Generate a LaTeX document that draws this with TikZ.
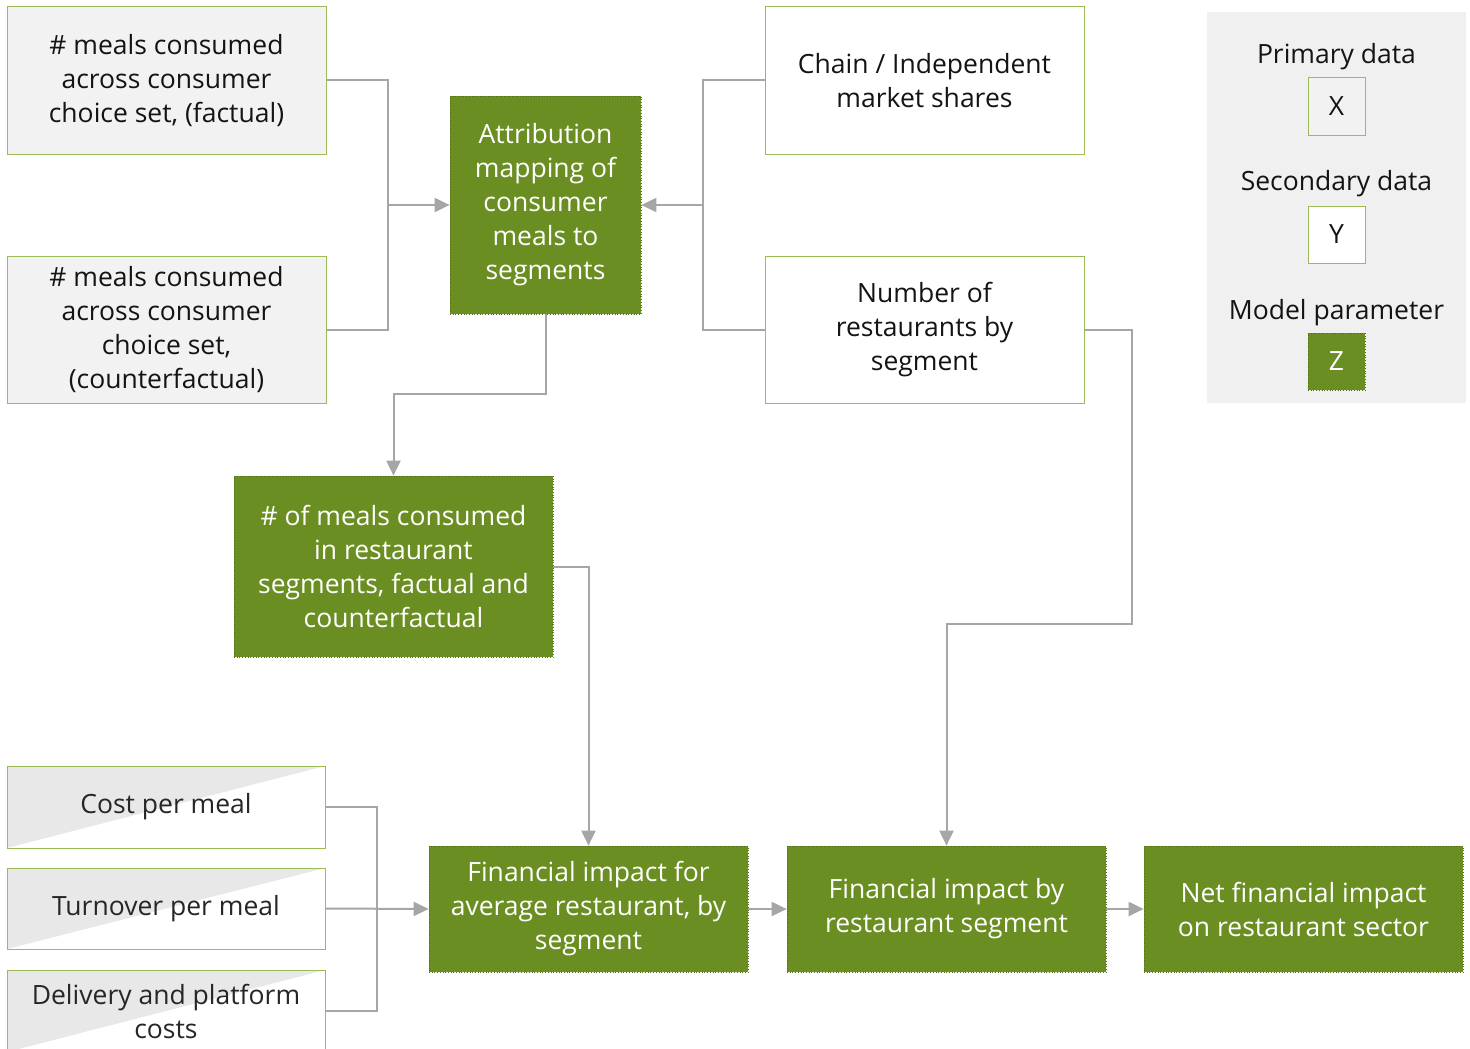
\documentclass[tikz,border=0pt]{standalone}
\usepackage{fontspec}
\setmainfont{Open Sans}
\usetikzlibrary{arrows.meta}
\definecolor{gfill}{RGB}{106,142,34}
\definecolor{gdot}{RGB}{80,108,26}
\definecolor{gline}{RGB}{155,187,89}
\definecolor{pfill}{RGB}{242,242,242}
\definecolor{conn}{RGB}{166,166,166}
\definecolor{txt}{RGB}{20,20,20}
\definecolor{txtb}{RGB}{38,38,38}
\definecolor{legbg}{RGB}{240,240,240}
\definecolor{halfgray}{RGB}{232,232,232}
\tikzset{
  base/.style={rectangle, inner sep=0pt, align=center, font=\fontsize{26.5}{34}\selectfont},
  primbox/.style={base, fill=pfill, draw=gline, line width=1pt, text=txt},
  secbox/.style={base, fill=white, draw=gline, line width=1pt, text=txt},
  modbox/.style={base, fill=gfill, draw=gdot, dotted, line width=0.7pt, text=white},
  halfbox/.style={base, fill=white, draw=gline, line width=1pt, text=txtb,
    path picture={\fill[halfgray] (path picture bounding box.north west) -- (path picture bounding box.north east) -- (path picture bounding box.south west) -- cycle;}},
  lbl/.style={font=\fontsize{26.5}{34}\selectfont, text=txt, inner sep=0pt},
  cline/.style={draw=conn, line width=2pt},
  carr/.style={cline, -{Triangle[length=15pt,width=14pt]}},
}
\begin{document}
\begin{tikzpicture}[x=1pt,y=-1pt]
\useasboundingbox (0,0) rectangle (1470,1049);
% legend
\fill[legbg] (1207,12) rectangle (1466,403);
\node[lbl] (lp) at (1336.5,57) {Primary data};
\node[primbox, minimum width=57pt, minimum height=57pt] (lx) at (1336.5,106.5) {X};
\node[lbl] (ls) at (1336.5,184) {Secondary data};
\node[secbox, minimum width=57pt, minimum height=57pt] (ly) at (1336.5,234.5) {Y};
\node[lbl] (lm) at (1336.5,313) {Model parameter};
\node[modbox, minimum width=57pt, minimum height=57pt] (lz) at (1336.5,361.5) {Z};
% top nodes
\node[primbox, minimum width=319pt, minimum height=147pt] (a1) at (166.5,80.5) {\# meals consumed\\across consumer\\choice set, (factual)};
\node[primbox, minimum width=319pt, minimum height=147pt] (a2) at (166.5,329.5) {\# meals consumed\\across consumer\\choice set,\\(counterfactual)};
\node[modbox, minimum width=191pt, minimum height=218pt] (attr) at (545.5,205) {Attribution\\mapping of\\consumer\\meals to\\segments};
\node[secbox, minimum width=319pt, minimum height=147pt] (chain) at (924.5,80.5) {Chain / Independent\\market shares};
\node[secbox, minimum width=319pt, minimum height=147pt] (num) at (924.5,329.5) {Number of\\restaurants by\\segment};
\node[modbox, minimum width=319pt, minimum height=181pt] (meals) at (393.5,566.5) {\# of meals consumed\\in restaurant\\segments, factual and\\counterfactual};
% bottom
\node[halfbox, minimum width=318pt, minimum height=82pt] (cost) at (166,807) {Cost per meal};
\node[halfbox, minimum width=318pt, minimum height=81pt] (turn) at (166,908.5) {Turnover per meal};
\node[halfbox, minimum width=318pt, minimum height=82pt] (deliv) at (166,1011) {Delivery and platform\\costs};
\node[modbox, minimum width=319pt, minimum height=126pt] (finavg) at (588.5,909) {Financial impact for\\average restaurant, by\\segment};
\node[modbox, minimum width=319pt, minimum height=126pt] (finseg) at (946.5,909) {Financial impact by\\restaurant segment};
\node[modbox, minimum width=319pt, minimum height=126pt] (net) at (1303.5,909) {Net financial impact\\on restaurant sector};
% connectors
\coordinate (jL) at (388,205);
\coordinate (jR) at (703,205);
\coordinate (jB) at (377,909);
\coordinate (k1) at (1132,624);
\coordinate (k2) at (545.5,394);
\draw[cline] (a1.east) -| (jL);
\draw[cline] (a2.east) -| (jL);
\draw[carr] (jL) -- (attr.west);
\draw[cline] (chain.west) -| (jR);
\draw[cline] (num.west) -| (jR);
\draw[carr] (jR) -- (attr.east);
\draw[carr] (attr.south) -- (k2) -| (meals.north);
\draw[carr] (meals.east) -| (finavg.north);
\draw[carr] (num.east) -| (k1) -| (finseg.north);
\draw[cline] (cost.east) -| (jB);
\draw[cline] (deliv.east) -| (jB);
\draw[carr] (turn.east) -- (finavg.west);
\draw[carr] (finavg.east) -- (finseg.west);
\draw[carr] (finseg.east) -- (net.west);
\end{tikzpicture}
\end{document}
